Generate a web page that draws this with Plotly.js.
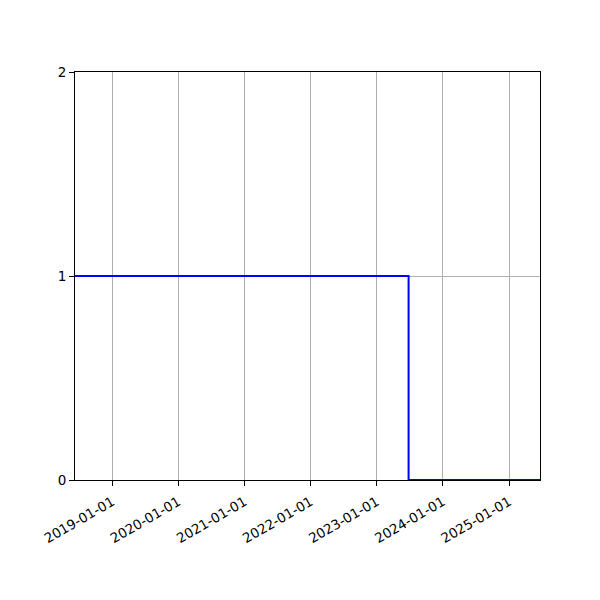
<!DOCTYPE html>
<html>
<head>
<meta charset="utf-8">
<script src="https://cdn.plot.ly/plotly-3.0.1.min.js"></script>
<style>html,body{margin:0;padding:0;background:#fff}#chart{width:600px;height:600px}</style>
</head>
<body>
<div id="chart"></div>
<script>
// Step series: value holds until the next date
const dates = ["2018-06-09", "2023-06-26", "2025-06-21"];
const values = [1, 0, 0];
const xRange = ["2018-06-09", "2025-06-21"];
const yTicks = [0, 1, 2];
const xTicks = ["2019-01-01", "2020-01-01", "2021-01-01", "2022-01-01", "2023-01-01", "2024-01-01", "2025-01-01"];

const font = {family: "DejaVu Sans, sans-serif", size: 13.5, color: "#000"};

Plotly.newPlot("chart", [{
  x: dates,
  y: values,
  type: "scatter",
  mode: "lines",
  line: {shape: "hv", color: "#0000ff", width: 2},
  hoverinfo: "skip"
}], {
  width: 600,
  height: 600,
  margin: {l: 75, r: 60, t: 72, b: 120},
  paper_bgcolor: "#fff",
  plot_bgcolor: "#fff",
  showlegend: false,
  font: font,
  xaxis: {
    type: "date",
    range: xRange,
    tickmode: "array",
    tickvals: xTicks,
    ticktext: xTicks,
    tickangle: -30,
    ticks: "outside",
    ticklen: 5,
    tickwidth: 1,
    tickcolor: "#000",
    ticklabelstandoff: 3,
    showgrid: true,
    gridcolor: "#b0b0b0",
    gridwidth: 1,
    showline: true,
    linecolor: "#000",
    linewidth: 1,
    mirror: true,
    zeroline: false,
    tickfont: font
  },
  yaxis: {
    range: [0, 2],
    tickmode: "array",
    tickvals: yTicks,
    ticktext: yTicks.map(String),
    ticks: "outside",
    ticklen: 5,
    tickwidth: 1,
    tickcolor: "#000",
    showgrid: true,
    gridcolor: "#b0b0b0",
    gridwidth: 1,
    showline: true,
    linecolor: "#000",
    linewidth: 1,
    mirror: true,
    zeroline: false,
    tickfont: font
  }
}, {staticPlot: true, displayModeBar: false});
</script>
</body>
</html>
